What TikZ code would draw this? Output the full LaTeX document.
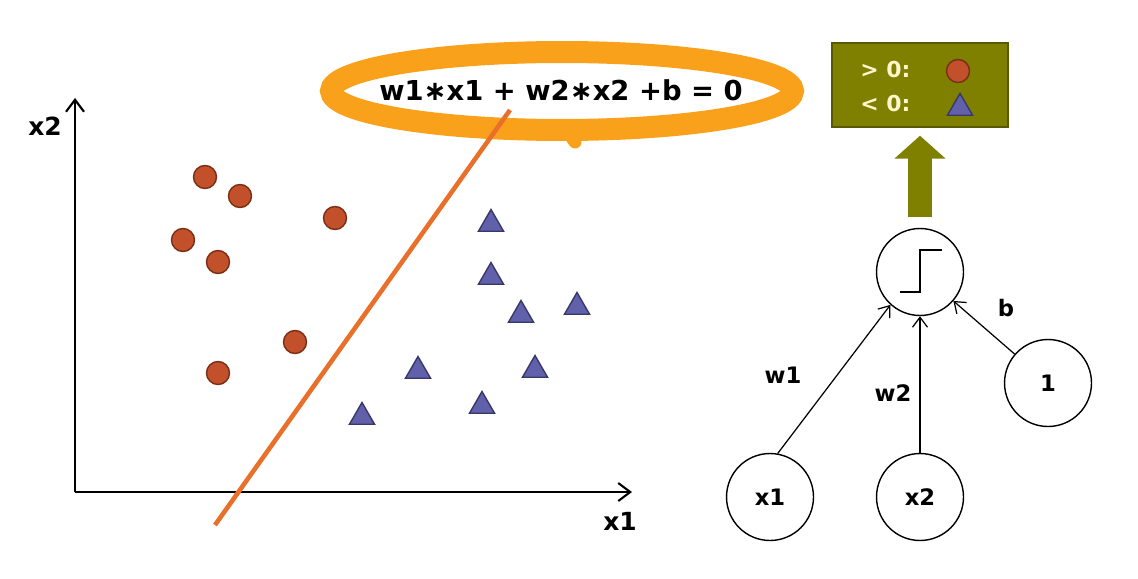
\documentclass[tikz,border=0pt]{standalone}
\usepackage{fontspec}
\setmainfont{DejaVu Sans}
\usetikzlibrary{arrows.meta,positioning,shapes.geometric,calc}
\definecolor{dotfill}{HTML}{C1502B}
\definecolor{dotline}{HTML}{7A2E14}
\definecolor{trifill}{HTML}{6161AB}
\definecolor{triline}{HTML}{383868}
\definecolor{boxolive}{HTML}{7F7F00}
\definecolor{ringorange}{HTML}{F9A11B}
\definecolor{linered}{HTML}{E8702A}
\definecolor{cream}{HTML}{FFF6CC}
\tikzset{
 dot/.style={circle,draw=dotline,fill=dotfill,line width=0.8pt,minimum size=4.6mm,inner sep=0pt},
 tri/.style={regular polygon,regular polygon sides=3,draw=triline,fill=trifill,line width=0.8pt,
             minimum size=5.8mm,inner sep=0pt},
 neuron/.style={circle,draw,line width=0.8pt,minimum size=17.4mm,inner sep=0pt,
             font=\fontsize{12.9}{15}\selectfont\bfseries},
 arrow/.style={-{Straight Barb[length=2mm,width=3mm]},line width=0.7pt},
 axis/.style={-{Straight Barb[length=2.4mm,width=3.6mm]},line width=1.2pt},
 lbl/.style={font=\fontsize{12.9}{15}\selectfont\bfseries},
 axlbl/.style={font=\fontsize{14.2}{17}\selectfont\bfseries},
 outbox/.style={draw=boxolive!70!black,fill=boxolive,line width=0.8pt,minimum width=3.52cm,
             minimum height=1.68cm},
 outtxt/.style={text=cream,inner sep=0pt,font=\fontsize{12.5}{15}\selectfont\bfseries},
 bigarrow/.style={boxolive,line width=4.8mm,-{Triangle[length=4.6mm,width=10mm]}},
 eqtxt/.style={inner sep=0pt,font=\fontsize{15.6}{18}\selectfont\bfseries},
 ring/.style={draw=ringorange,line width=4.4mm}
}
\begin{document}
\begin{tikzpicture}[x=0.02cm,y=-0.02cm]
\useasboundingbox (0,0) rectangle (1138,578);
\coordinate (O) at (75,492);
\coordinate (xend) at (632,492);
\coordinate (yend) at (75,98);
\draw[axis] (O) -- (xend);
\draw[axis] (O) -- (yend);
\node[axlbl] (lx2) at (45,126) {x2};
\node[axlbl] (lx1) at (620,521) {x1};
\foreach \p [count=\i] in {(205,177),(240,196),(335,218),(183,240),(218,262),(295,342),(218,373)}
  \node[dot] (c\i) at \p {};
\foreach \p [count=\i] in {(491,224),(491,277),(521,315),(577,307),(418,371),(535,370),(362,417),(482,406)}
  \node[tri] (t\i) at \p {};
\node[eqtxt] (eqn) at (561,90) {w1∗x1 + w2∗x2 +b = 0};
\draw[ring] (562,91) ellipse [x radius=4.62cm, y radius=0.78cm];
\draw[ringorange,line width=2.6mm,line cap=round] (568,132) -- (575,142);
\coordinate (lnA) at (215,525);
\coordinate (lnB) at (510,110);
\draw[linered,line width=2.6pt] (lnA) -- (lnB);
\node[outbox] (box) at (920,85) {};
\node[outtxt,anchor=west] (gt) at (860,70) {> 0:};
\node[outtxt,anchor=west] (lt) at (860,104) {< 0:};
\node[dot] (bdot) at (958,71) {};
\node[tri] (btri) at (960,108) {};
\node[neuron] (step) at (920,272) {};
\draw[line width=1.6pt] ($(step)+(-20,20)$) -- ++(20,0) -- ++(0,-42) -- ++(22,0);
\draw[bigarrow] ($(step.north)+(0,-11)$) -- ($(box.south)+(0,8)$);
\node[neuron] (x1) at (770,497) {x1};
\node[neuron] (x2) at (920,497) {x2};
\node[neuron] (one) at (1048,383) {1};
\draw[arrow] (x1.80) -- (step.228);
\draw[arrow] (x2) -- (step);
\draw[arrow] (one) -- (step);
\node[lbl] (w1) at (783,375) {w1};
\node[lbl] (w2) at (893,393) {w2};
\node[lbl] (b) at (1006,308) {b};
\end{tikzpicture}
\end{document}
